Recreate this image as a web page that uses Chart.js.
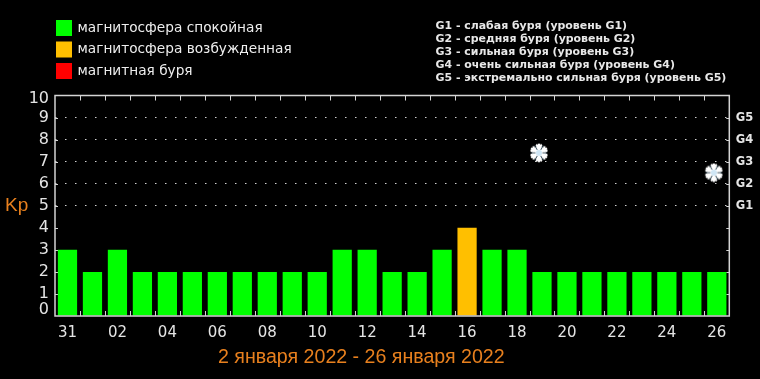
<!DOCTYPE html>
<html>
<head>
<meta charset="utf-8">
<title>Kp</title>
<script src="https://cdn.jsdelivr.net/npm/chart.js@4"></script>
<style>
  html, body { margin: 0; padding: 0; background: #000; }
  #wrap { width: 760px; height: 379px; }
</style>
</head>
<body>
<div id="wrap"><canvas id="kp-chart" width="760" height="379"></canvas></div>
<script>
var days = ["31", "01", "02", "03", "04", "05", "06", "07", "08", "09", "10", "11", "12", "13",
  "14", "15", "16", "17", "18", "19", "20", "21", "22", "23", "24", "25", "26"];
var kpValues = [3, 2, 3, 2, 2, 2, 2, 2, 2, 2, 2, 3, 3, 2, 2, 3, 4, 3, 3, 2, 2, 2, 2, 2, 2, 2, 2];
var snowValues = [null, null, null, null, null, null, null, null, null, null, null, null, null, null,
  null, null, null, null, null, 7.4, null, null, null, null, null, null, 6.5];
var stormLabels = { 5: "G1", 6: "G2", 7: "G3", 8: "G4", 9: "G5" };
var legendLabels = ["магнитосфера спокойная", "магнитосфера возбужденная", "магнитная буря"];
var legendColors = ["#00ff00", "#ffbf00", "#ff0000"];
var stormNotes = [
  "G1 - слабая буря (уровень G1)",
  "G2 - средняя буря (уровень G2)",
  "G3 - сильная буря (уровень G3)",
  "G4 - очень сильная буря (уровень G4)",
  "G5 - экстремально сильная буря (уровень G5)"
];
var periodTitle = "2 января 2022 - 26 января 2022";

var axisColor = "#d4d4d4";
var labelColor = "#e4e4e4";
var orange = "#e8801e";

function barColor(v) {
  if (v >= 5) return legendColors[2];
  if (v == 4) return legendColors[1];
  return legendColors[0];
}

// snowflake marker, drawn 3px left of the image centre like the original
function makeFlake() {
  var c = document.createElement("canvas");
  c.width = 26;
  c.height = 20;
  var g = c.getContext("2d");
  g.translate(10, 10);
  g.fillStyle = "#ffffff";
  g.beginPath();
  g.arc(0, 0, 7, 0, Math.PI * 2);
  g.fill();
  g.strokeStyle = "#ffffff";
  g.lineWidth = 2.2;
  for (var i = 0; i < 6; i++) {
    g.save();
    g.rotate(i * Math.PI / 3);
    g.beginPath();
    g.moveTo(0, 0);
    g.lineTo(0, -9.3);
    g.moveTo(-3, -8);
    g.lineTo(0, -6);
    g.lineTo(3, -8);
    g.stroke();
    g.restore();
  }
  g.strokeStyle = "#16303f";
  g.lineWidth = 0.8;
  for (var j = 0; j < 6; j++) {
    g.save();
    g.rotate((j + 0.5) * Math.PI / 3);
    g.beginPath();
    g.moveTo(0, -3.5);
    g.lineTo(0, -8.5);
    g.stroke();
    g.restore();
  }
  g.fillStyle = "#cfe6f5";
  g.beginPath();
  g.arc(0, 0, 3, 0, Math.PI * 2);
  g.fill();
  return c;
}

var framePlugin = {
  id: "frame",
  beforeDatasetsDraw: function (chart) {
    var a = chart.chartArea, x = chart.scales.x, y = chart.scales.y, g = chart.ctx;
    g.save();
    g.strokeStyle = axisColor;
    g.lineWidth = 1;
    g.beginPath();
    // day ticks sit between the bars, top and bottom
    for (var i = 0; i < days.length - 1; i++) {
      var px = Math.round((x.getPixelForValue(i) + x.getPixelForValue(i + 1)) / 2) + 0.5;
      g.moveTo(px, a.top);
      g.lineTo(px, a.top + 5);
      g.moveTo(px, a.bottom);
      g.lineTo(px, a.bottom - 5);
    }
    for (var v = 1; v < 10; v++) {
      var py = Math.round(y.getPixelForValue(v)) + 0.5;
      g.moveTo(a.left, py);
      g.lineTo(a.left + 3, py);
      g.moveTo(a.right, py);
      g.lineTo(a.right - 3, py);
    }
    g.stroke();
    g.restore();
  },
  afterDatasetsDraw: function (chart) {
    var a = chart.chartArea, g = chart.ctx;
    g.save();
    g.strokeStyle = axisColor;
    g.lineWidth = 1.5;
    g.strokeRect(a.left, a.top, a.right - a.left, a.bottom - a.top);
    g.restore();
  },
  afterDraw: function (chart) {
    var g = chart.ctx;
    g.save();
    g.textBaseline = "middle";
    g.textAlign = "left";

    g.fillStyle = orange;
    g.font = "19px 'Liberation Sans'";
    g.fillText("Kp", 5, 206);

    g.font = "19.6px 'Liberation Sans'";
    g.fillText(periodTitle, 218, 358);

    g.font = "13.7px 'DejaVu Sans'";
    legendLabels.forEach(function (t, i) {
      var top = 20 + i * 21.5;
      g.fillStyle = legendColors[i];
      g.fillRect(56, top, 16, 16);
      g.fillStyle = "#eeeeee";
      g.fillText(t, 77.5, top + 8);
    });

    g.font = "bold 10.95px 'DejaVu Sans'";
    g.fillStyle = "#e8e8e8";
    stormNotes.forEach(function (t, i) {
      g.fillText(t, 435.5, 26 + i * 13);
    });
    g.restore();
  }
};

new Chart(document.getElementById("kp-chart"), {
  type: "bar",
  data: {
    labels: days,
    datasets: [
      {
        data: kpValues,
        backgroundColor: kpValues.map(barColor),
        barPercentage: 0.77,
        categoryPercentage: 1,
        grouped: false,
        order: 2
      },
      {
        type: "line",
        data: snowValues,
        showLine: false,
        pointStyle: makeFlake(),
        order: 1
      }
    ]
  },
  plugins: [framePlugin],
  options: {
    responsive: false,
    animation: false,
    layout: { padding: { top: 95.5, bottom: 0, left: 0, right: 0 } },
    plugins: { legend: { display: false }, title: { display: false }, tooltip: { enabled: false } },
    scales: {
      x: {
        grid: { display: false },
        border: { display: false },
        afterFit: function (s) { s.height = 63; },
        ticks: {
          autoSkip: false,
          maxRotation: 0,
          padding: 0,
          color: labelColor,
          font: { family: "'DejaVu Sans'", size: 15 },
          callback: function (value, index) { return index % 2 == 0 ? days[index] : ""; }
        }
      },
      y: {
        min: 0,
        max: 10,
        afterFit: function (s) { s.width = 55; },
        border: { display: false, dash: [1.5, 8.5] },
        grid: {
          drawTicks: false,
          color: function (ctx) {
            return ctx.tick && ctx.tick.value >= 5 && ctx.tick.value <= 9 ? "#d0d0d0" : "transparent";
          }
        },
        ticks: {
          stepSize: 1,
          autoSkip: false,
          padding: 6,
          color: labelColor,
          // 0 and 10 sit a little inside the axis in the original
          font: function (ctx) {
            var v = ctx.tick ? ctx.tick.value : 1;
            var lh = v == 0 ? 0.75 : v == 10 ? 0.375 : 1.2;
            return { family: "'DejaVu Sans'", size: 16, lineHeight: lh };
          },
          callback: function (value) {
            if (value == 0) return ["0", ""];
            if (value == 10) return ["", "10"];
            return String(value);
          }
        }
      },
      y2: {
        position: "right",
        min: 0,
        max: 10,
        afterFit: function (s) { s.width = 30.7; },
        border: { display: false },
        grid: { drawOnChartArea: false, drawTicks: false },
        ticks: {
          stepSize: 1,
          autoSkip: false,
          padding: 6.5,
          color: labelColor,
          font: { family: "'DejaVu Sans'", size: 11.5, weight: "bold" },
          callback: function (value) { return stormLabels[value] || ""; }
        }
      }
    }
  }
});
</script>
</body>
</html>
